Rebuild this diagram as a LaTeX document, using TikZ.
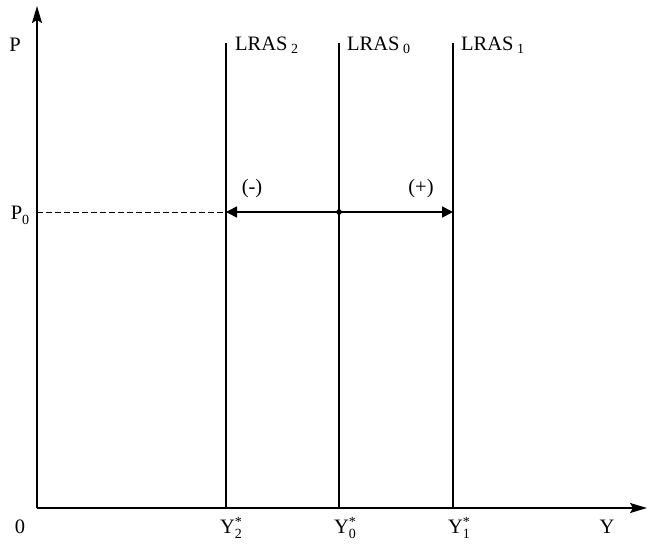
\documentclass[tikz,border=0pt]{standalone}
\usepackage{fontspec}
\setmainfont{Liberation Serif}
\usetikzlibrary{arrows.meta}
\newcommand{\subsz}{\fontsize{14}{16}\selectfont}
\begin{document}
\begin{tikzpicture}[x=1pt,y=-1pt,
  axis/.style={line width=1.5pt,-{Stealth[length=17pt,width=10pt,inset=3pt]}},
  lras/.style={line width=1.5pt},
  shiftarrow/.style={line width=1.7pt,-{Triangle[length=11pt,width=11pt]}},
  lbl/.style={font=\fontsize{20.5}{24}\selectfont,inner sep=0pt},
  dotst/.style={circle,fill=black,inner sep=0pt,minimum size=5.5pt}]
\useasboundingbox (0,0) rectangle (648,544);
% axes
\coordinate (O) at (37,508);
\coordinate (Ptop) at (37,6);
\coordinate (Yend) at (647,508);
\draw[axis] (O) -- (Ptop);
\draw[axis] (O) -- (Yend);
% LRAS lines
\coordinate (L2t) at (226,43); \coordinate (L2b) at (226,508);
\coordinate (L0t) at (339,43); \coordinate (L0b) at (339,508);
\coordinate (L1t) at (453,43); \coordinate (L1b) at (453,508);
\draw[lras] (L2t) -- (L2b);
\draw[lras] (L0t) -- (L0b);
\draw[lras] (L1t) -- (L1b);
% P0 level
\coordinate (P0a) at (37,212);
\coordinate (A2) at (226,212);
\coordinate (A1) at (453,212);
\node[dotst] (mid) at (339,212) {};
\draw[line width=1pt,dash pattern=on 5.5pt off 3.5pt] (P0a) -- (A2);
\draw[shiftarrow] (mid.center) -- (A2);
\draw[shiftarrow] (mid.center) -- (A1);
% labels
\node[lbl,anchor=base west] (t2) at (235,50) {LRAS\,\raisebox{-0.4ex}{\subsz 2}};
\node[lbl,anchor=base west] (t0) at (347,50) {LRAS\,\raisebox{-0.4ex}{\subsz 0}};
\node[lbl,anchor=base west] (t1) at (461,50) {LRAS\,\raisebox{-0.4ex}{\subsz 1}};
\node[lbl,anchor=base] (P) at (15,51) {P};
\node[lbl,anchor=base] (P0) at (20,219) {P\raisebox{-0.6ex}{\subsz 0}};
\node[lbl,anchor=base] (zero) at (20,533) {0};
\node[lbl,anchor=base] (minus) at (252,193) {(-)};
\node[lbl,anchor=base] (plus) at (421,193) {(+)};
\node[lbl,anchor=base] (Y2) at (231,533) {Y\rlap{\raisebox{0.7ex}{\subsz *}}\raisebox{-0.6ex}{\subsz 2}};
\node[lbl,anchor=base] (Y0) at (345,533) {Y\rlap{\raisebox{0.7ex}{\subsz *}}\raisebox{-0.6ex}{\subsz 0}};
\node[lbl,anchor=base] (Y1) at (459,533) {Y\rlap{\raisebox{0.7ex}{\subsz *}}\raisebox{-0.6ex}{\subsz 1}};
\node[lbl,anchor=base] (Y) at (607,533) {Y};
\end{tikzpicture}
\end{document}
